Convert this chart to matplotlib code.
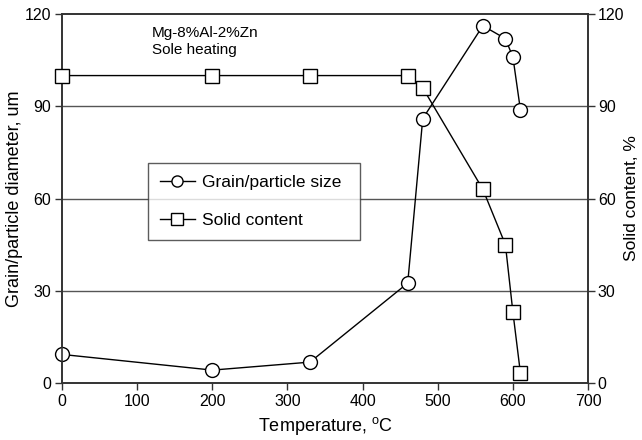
import matplotlib
matplotlib.use("Agg")
import matplotlib.pyplot as plt

plt.rcParams['font.family'] = ['Liberation Sans', 'DejaVu Sans']
plt.rcParams['mathtext.fontset'] = 'custom'
plt.rcParams['mathtext.rm'] = 'Liberation Sans'

# heating temperature, degC
temp = [0, 200, 330, 460, 480, 560, 590, 600, 610]
grain_size = [9.3, 4.2, 6.8, 32.5, 86, 116.2, 112, 106, 88.8]
solid_content = [100, 100, 100, 100, 96, 63, 45, 23, 3.2]

yticks = [0, 30, 60, 90, 120]
xticks = [0, 100, 200, 300, 400, 500, 600, 700]

fig = plt.figure(figsize=(6.42, 4.4), dpi=100)
ax = fig.add_axes([0.0966, 0.1295, 0.8194, 0.8385])
ax2 = ax.twinx()

for y in [30, 60, 90]:
    ax.axhline(y, color='#555555', lw=1.0, zorder=0)

l1, = ax.plot(temp, grain_size, '-o', color='black', lw=1.0, ms=10,
              mfc='white', mec='black', mew=1.0, label='Grain/particle size',
              zorder=3, clip_on=False)
l2, = ax2.plot(temp, solid_content, '-s', color='black', lw=1.0, ms=10,
               mfc='white', mec='black', mew=1.0, label='Solid content',
               zorder=3, clip_on=False)

ax.set_xlim(0, 700)
ax.set_ylim(0, 120)
ax2.set_ylim(0, 120)
ax.set_xticks(xticks)
ax.set_yticks(yticks)
ax2.set_yticks(yticks)

for a in (ax, ax2):
    a.tick_params(direction='out', length=5, width=1, labelsize=11.5,
                  color='#333333', pad=3)
    for s in a.spines.values():
        s.set_color('#333333')
        s.set_linewidth(1.2)
ax2.tick_params(pad=2)

ax.set_xlabel(r'Temperature, $^{\mathrm{o}}$C', fontsize=13)
ax.set_ylabel('Grain/particle diameter, um', fontsize=13, labelpad=1)
ax2.set_ylabel('Solid content, %', fontsize=12.5, rotation=90, labelpad=0)

ax.text(0.171, 0.968, 'Mg-8%Al-2%Zn\nSole heating', transform=ax.transAxes,
        fontsize=11, va='top', ha='left', linespacing=1.3)

leg = ax2.legend(handles=[l1, l2], loc='lower left',
                 bbox_to_anchor=(0.163, 0.3875, 0.403, 0.2225), mode='expand',
                 frameon=True, fancybox=False, fontsize=12.5, handlelength=2.0,
                 handletextpad=0.4, labelspacing=1.3, borderpad=0.7,
                 markerscale=0.8, borderaxespad=0)
leg.get_frame().set_edgecolor('#333333')
leg.get_frame().set_linewidth(1.0)
leg.set_zorder(10)

fig.savefig('out.png', dpi=100)
